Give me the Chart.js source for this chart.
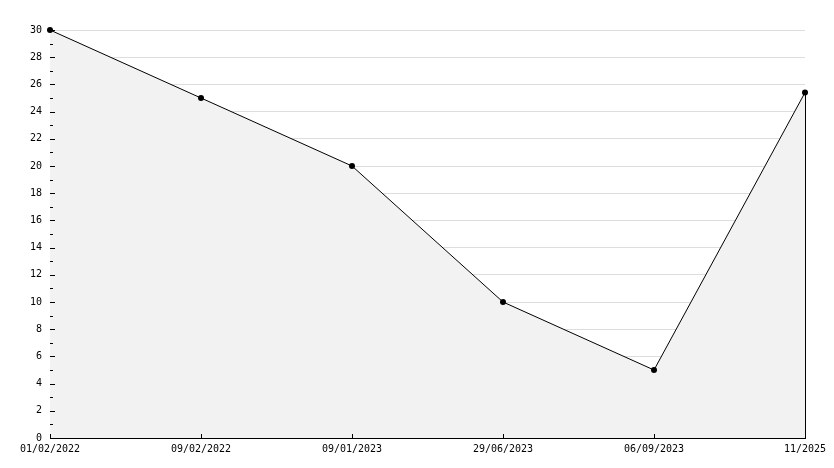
<!DOCTYPE html>
<html>
<head>
<meta charset="utf-8">
<script src="https://cdn.jsdelivr.net/npm/chart.js@4/dist/chart.umd.min.js"></script>
<style>
  html, body { margin: 0; padding: 0; background: #fff; }
  #wrap { width: 834px; height: 468px; }
</style>
</head>
<body>
<div id="wrap"><canvas id="c" width="834" height="468"></canvas></div>
<script>
const categories = ['01/02/2022', '09/02/2022', '09/01/2023', '29/06/2023', '06/09/2023', '11/2025'];
const values = [30, 25, 20, 10, 5, 25.4];
const yMin = 0;
const yMax = 30;
const yMajorStep = 2;
const yMinorStep = 1;

const inwardTicks = {
  id: 'inwardTicks',
  afterDatasetsDraw(chart) {
    const ctx = chart.ctx;
    const x = chart.scales.x, y = chart.scales.y;
    const area = chart.chartArea;
    ctx.save();
    ctx.strokeStyle = '#000';
    ctx.lineWidth = 1;
    // right edge of filled area: from last point down to axis
    const last = values.length - 1;
    const lx = Math.round(x.getPixelForValue(last)) + 0.5;
    ctx.beginPath();
    ctx.moveTo(lx, y.getPixelForValue(values[last]));
    ctx.lineTo(lx, y.getPixelForValue(0));
    ctx.stroke();
    // y ticks (inward)
    for (let v = yMin; v <= yMax; v += yMinorStep) {
      const py = Math.round(y.getPixelForValue(v)) + 0.5;
      const len = (v % yMajorStep === 0) ? 5 : 3;
      ctx.beginPath();
      ctx.moveTo(area.left, py);
      ctx.lineTo(area.left + len, py);
      ctx.stroke();
    }
    // x ticks (inward)
    for (let i = 0; i < categories.length; i++) {
      const px = Math.round(x.getPixelForValue(i)) + 0.5;
      ctx.beginPath();
      ctx.moveTo(px, area.bottom);
      ctx.lineTo(px, area.bottom - 4);
      ctx.stroke();
    }
    ctx.restore();
  }
};

new Chart(document.getElementById('c'), {
  type: 'line',
  data: {
    labels: categories,
    datasets: [{
      data: values,
      borderColor: '#000',
      borderWidth: 1,
      backgroundColor: '#f2f2f2',
      fill: 'origin',
      tension: 0,
      pointRadius: 3,
      pointBackgroundColor: '#000',
      pointBorderColor: '#000',
      pointBorderWidth: 0,
      clip: false
    }]
  },
  options: {
    responsive: false,
    animation: false,
    devicePixelRatio: 1,
    layout: { padding: { left: 0, right: 29, top: 30, bottom: 0 } },
    plugins: { legend: { display: false }, tooltip: { enabled: false } },
    font: { family: 'DejaVu Sans Mono', size: 10 },
    scales: {
      x: {
        type: 'category',
        offset: false,
        grid: { display: true, drawOnChartArea: false, drawTicks: false },
        border: { display: true, color: '#000', width: 1 },
        ticks: {
          color: '#000',
          font: { family: 'DejaVu Sans Mono', size: 10 },
          padding: 5,
          maxRotation: 0,
          autoSkip: false
        },
        afterFit(s) { s.height = 30; }
      },
      y: {
        min: yMin,
        max: yMax,
        grid: { color: '#dddddd', lineWidth: 1, drawTicks: false },
        border: { display: true, color: '#000', width: 1 },
        ticks: {
          stepSize: yMajorStep,
          color: '#000',
          font: { family: 'DejaVu Sans Mono', size: 10 },
          padding: 8
        },
        afterFit(s) { s.width = 50; }
      }
    }
  },
  plugins: [inwardTicks]
});
</script>
</body>
</html>
